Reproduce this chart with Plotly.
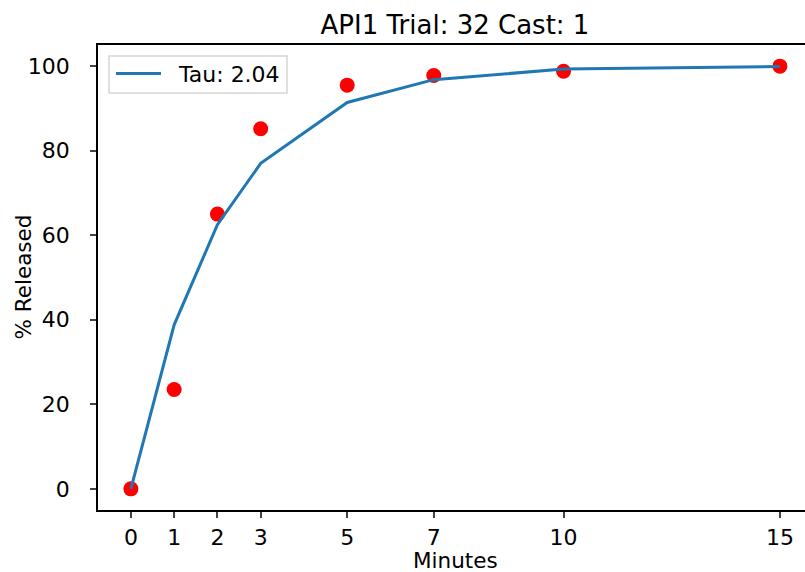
import plotly.graph_objects as go

minutes = [0, 1, 2, 3, 5, 7, 10, 15]
measured = [0, 23.5, 65.0, 85.2, 95.5, 97.8, 98.8, 100.0]
fitted = [0, 38.8, 62.5, 77.0, 91.4, 96.8, 99.3, 99.9]
tick_vals = [0, 1, 2, 3, 5, 7, 10, 15]
y_ticks = [0, 20, 40, 60, 80, 100]
legend_label = "Tau: 2.04"
title_text = "API1 Trial: 32 Cast: 1"

font = "DejaVu Sans"
W, H = 805, 572
L, R, T, B = 98, 0, 45, 62
pw, ph = W - L - R, H - T - B

def px(x):
    return (x - L) / pw

def py(y):
    return (H - B - y) / ph

fig = go.Figure()
fig.add_trace(go.Scatter(x=minutes, y=measured, mode="markers", showlegend=False,
                         marker=dict(color="red", size=15, line=dict(width=0))))
fig.add_trace(go.Scatter(x=minutes, y=fitted, mode="lines", name=legend_label, showlegend=False,
                         line=dict(color="#1f77b4", width=3)))

# legend box drawn like matplotlib's
shapes = [
    dict(type="rect", xref="paper", yref="paper", x0=px(109), x1=px(287), y0=py(93), y1=py(56),
         line=dict(color="#d6d6d6", width=1.5), fillcolor="rgba(255,255,255,0.8)", layer="above"),
    dict(type="line", xref="paper", yref="paper", x0=px(116), x1=px(161), y0=py(73.5), y1=py(73.5),
         line=dict(color="#1f77b4", width=3), layer="above"),
]
annotations = [
    dict(text=legend_label, xref="paper", yref="paper", x=px(176), y=py(74), xanchor="left",
         yanchor="middle", showarrow=False, font=dict(size=22, family=font, color="black")),
    dict(text="Minutes", xref="paper", yref="paper", x=0.5 * (px(98) + px(812)), y=py(560),
         xanchor="center", yanchor="middle", showarrow=False, font=dict(size=21.5, family=font, color="black")),
    dict(text="% Released", xref="paper", yref="paper", x=px(23), y=0.5, textangle=-90,
         xanchor="center", yanchor="middle", showarrow=False, font=dict(size=21.5, family=font, color="black")),
]

fig.update_layout(
    width=W, height=H,
    margin=dict(l=L, r=R, t=T, b=B),
    paper_bgcolor="white", plot_bgcolor="white",
    font=dict(family=font, size=21, color="black"),
    title=dict(text=title_text, x=455 / W, xref="container", xanchor="center",
               y=1 - 25 / H, yref="container", yanchor="middle", font=dict(size=26)),
    showlegend=False,
    shapes=shapes,
    annotations=annotations,
)
fig.update_xaxes(range=[-0.76, 15.58], tickvals=tick_vals, ticks="outside", ticklen=6, tickwidth=1.5,
                 showline=True, linecolor="black", linewidth=1.5, mirror=True, showgrid=False,
                 zeroline=False, automargin=False, tickfont=dict(size=22), ticklabelstandoff=1)
fig.update_yaxes(range=[-5, 105], tickvals=y_ticks, ticks="outside", ticklen=6, tickwidth=1.5,
                 showline=True, linecolor="black", linewidth=1.5, mirror=False, showgrid=False,
                 zeroline=False, automargin=False, tickfont=dict(size=22), ticklabelstandoff=16)

fig.write_html("out.html")
